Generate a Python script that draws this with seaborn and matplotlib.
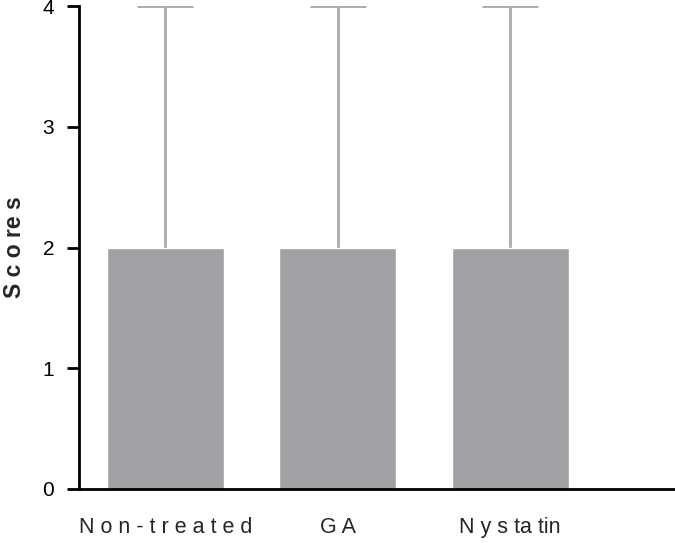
import pandas as pd
import seaborn as sns
import matplotlib.pyplot as plt

# data
groups = ['N o n - t r e a t e d', 'G A', 'N y s ta tin']
means = [2, 2, 2]
upper_err = [2, 2, 2]

df = pd.DataFrame({'group': groups, 'score': means})

sns.set_style('white')
plt.rcParams['font.family'] = ['Liberation Sans', 'DejaVu Sans']

fig = plt.figure(figsize=(6.75, 5.43), dpi=100)
ax = fig.add_axes([79 / 675, 54 / 543, 595 / 675, 483 / 543])

sns.barplot(x='group', y='score', data=df, color='#a1a0a4', saturation=1,
            width=0.68, errorbar=None, ax=ax)
for p in ax.patches:
    p.set_zorder(3)
_, caps, _ = ax.errorbar(range(len(groups)), means,
                         yerr=[[0] * len(groups), upper_err],
                         fmt='none', ecolor='#ababab', elinewidth=2,
                         capsize=20, capthick=2, zorder=2)
# only the top caps are shown
caps[0].set_visible(False)

ax.set_xlim(-0.5, 2.95)
ax.set_ylim(0, 4)
ax.set_yticks([0, 1, 2, 3, 4])
ax.set_xlabel('')
ax.set_ylabel('S c o re s', fontsize=16.5, fontweight='bold', labelpad=12)

for side in ['top', 'right']:
    ax.spines[side].set_visible(False)
for side in ['left', 'bottom']:
    ax.spines[side].set_linewidth(2)
    ax.spines[side].set_color('black')
    ax.spines[side].set_zorder(4)

ax.tick_params(axis='y', direction='out', length=9, width=2, colors='black',
               labelsize=15, pad=9, left=True)
ax.tick_params(axis='x', length=0, labelsize=15.5, pad=20)

plt.savefig('out.png', dpi=100)
